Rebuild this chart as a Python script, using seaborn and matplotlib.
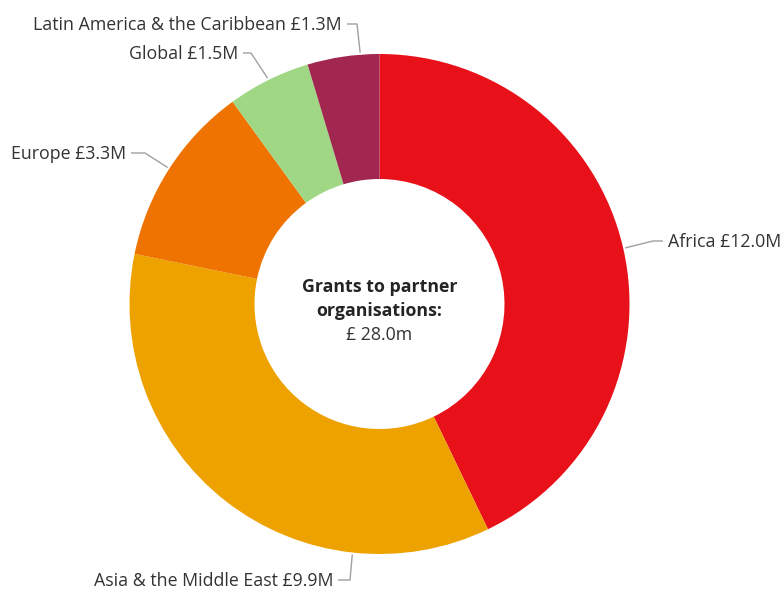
import numpy as np
import matplotlib
matplotlib.use("Agg")
import matplotlib.pyplot as plt
import seaborn as sns

sns.set_theme(style="white")
plt.rcParams["font.family"] = ["Open Sans", "DejaVu Sans"]

# Grant data by region (GBP millions)
regions = ["Africa", "Asia & the Middle East", "Europe", "Global",
           "Latin America & the Caribbean"]
amounts = [12.0, 9.9, 3.3, 1.5, 1.3]
colors = ["#E8111A", "#EEA200", "#EE7300", "#A0D785", "#A12750"]
total = 28.0
center_title = ["Grants to partner", "organisations:"]
center_value = f"£ {total:.1f}m"

W, H = 783, 592
fig = plt.figure(figsize=(W / 100, H / 100), dpi=100)
ax = fig.add_axes([0, 0, 1, 1])

cx, cy = 379.5, H - 304
R_out, R_in = 250, 125

wedges, _ = ax.pie(amounts, colors=colors, startangle=90, counterclock=False,
                   center=(cx, cy), radius=R_out, frame=True,
                   wedgeprops=dict(width=R_out - R_in, linewidth=0))
ax.set_xlim(0, W)
ax.set_ylim(0, H)
ax.set_aspect("equal")
ax.axis("off")

# Leader-line layout: anchor angle on the ring (None = wedge middle),
# elbow point and end of horizontal segment (pixel coords, y down)
layout = {
    "Africa": (None, (653, 241), (663, 241), "left"),
    "Asia & the Middle East": (263.8, (350, 580), (338, 580), "right"),
    "Europe": (None, (145, 153), (131, 153), "right"),
    "Global": (None, (251, 53), (243, 53), "right"),
    "Latin America & the Caribbean": (94.4, (357, 24), (347, 24), "right"),
}

fs = 12.8
for w, name, val in zip(wedges, regions, amounts):
    ang, elbow, end, ha = layout[name]
    if ang is None:
        ang = (w.theta1 + w.theta2) / 2
    a = np.deg2rad(ang)
    x0, y0 = cx + (R_out + 2) * np.cos(a), cy + (R_out + 2) * np.sin(a)
    xs = [x0, elbow[0], end[0]]
    ys = [y0, H - elbow[1], H - end[1]]
    ax.plot(xs, ys, color="#A0A0A0", lw=1.0, solid_capstyle="butt")
    tx = end[0] + (5 if ha == "left" else -5)
    ax.text(tx, H - end[1] - 1, f"{name} £{val:.1f}M", ha=ha, va="center",
            fontsize=fs, color="#333333")

for line, ypix in zip(center_title, [287, 311]):
    ax.text(cx, H - ypix, line, ha="center", va="center", fontsize=fs,
            fontweight="bold", color="#252423")
ax.text(cx, H - 335, center_value, ha="center", va="center", fontsize=fs,
        color="#333333")

fig.savefig("out.png", dpi=100, facecolor="white")
